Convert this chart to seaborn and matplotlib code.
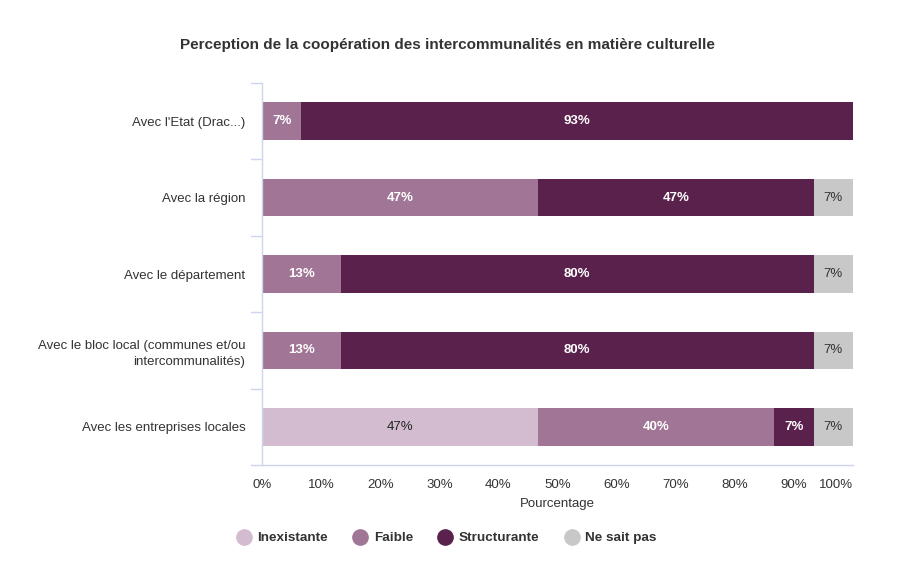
import matplotlib
matplotlib.use("Agg")
import matplotlib.pyplot as plt
import matplotlib.transforms as mtrans
from matplotlib.lines import Line2D
import seaborn as sns
import pandas as pd
import numpy as np

categories = ["Avec l'Etat (Drac...)", "Avec la région", "Avec le département",
              "Avec le bloc local (communes et/ou\nintercommunalités)",
              "Avec les entreprises locales"]
series = ["Inexistante", "Faible", "Structurante", "Ne sait pas"]
inexistante = [0, 0, 0, 0, 46.67]
faible = [6.67, 46.67, 13.33, 13.33, 40.0]
structurante = [93.33, 46.67, 80.0, 80.0, 6.67]
ne_sait_pas = [0, 6.67, 6.67, 6.67, 6.67]
colors = ["#d4bcd0", "#a07595", "#5a214d", "#c8c8c8"]
label_colors = ["#222222", "#ffffff", "#ffffff", "#333333"]
label_weights = ["normal", "bold", "bold", "normal"]
xticks = [0, 10, 20, 30, 40, 50, 60, 70, 80, 90, 100]

sns.set_theme(style="white")
plt.rcParams["font.family"] = ["Liberation Sans", "DejaVu Sans"]

df = pd.DataFrame({"cat": categories, "Inexistante": inexistante, "Faible": faible,
                   "Structurante": structurante, "Ne sait pas": ne_sait_pas})
vals = df[series].to_numpy()
cum = np.cumsum(vals, axis=1)

fig = plt.figure(figsize=(9.11, 5.86), dpi=100)
top_px, bot_px, left_px, right_px = 83, 465, 262, 853
ax = fig.add_axes([left_px/911, (586-bot_px)/586, (right_px-left_px)/911, (bot_px-top_px)/586])

for i in range(len(series) - 1, -1, -1):
    d = pd.DataFrame({"cat": categories, "v": cum[:, i]})
    sns.barplot(data=d, x="v", y="cat", orient="h", color=colors[i], width=0.49,
                saturation=1, ax=ax, linewidth=0, errorbar=None)

for r in range(len(categories)):
    for i in range(len(series)):
        v = vals[r, i]
        if v <= 0:
            continue
        start = cum[r, i] - v
        ax.text(start + v / 2, r, f"{round(v):.0f}%", ha="center", va="center",
                color=label_colors[i], fontweight=label_weights[i], fontsize=9.5)

ax.set_xlim(0, 100)
ax.set_ylim(4.5, -0.5)
ax.set_xticks(xticks)
ax.set_xticklabels([f"{t}%" for t in xticks], fontsize=9.5, color="#333333")
lbls = ax.get_xticklabels()
lbls[-1].set_horizontalalignment("right")
lbls[-1].set_transform(lbls[-1].get_transform() + mtrans.ScaledTranslation(2/100, 0, fig.dpi_scale_trans))
ax.set_xlabel("Pourcentage", fontsize=9.5, color="#333333", labelpad=5)
ax.set_ylabel("")
ax.tick_params(axis="y", length=0, labelsize=9.5, labelcolor="#333333", pad=12)
ax.tick_params(axis="x", length=9, color="#ccd6eb", width=1, direction="out", pad=1)
ax.set_yticks(range(len(categories)))
ax.set_yticklabels(categories, linespacing=1.4)

for s in ["top", "right"]:
    ax.spines[s].set_visible(False)
for s in ["left", "bottom"]:
    ax.spines[s].set_color("#ccd6eb")
    ax.spines[s].set_linewidth(1)

# category boundary ticks on y axis
for b in np.arange(-0.5, len(categories), 1.0):
    ax.plot([-1.85, 0], [b, b], color="#ccd6eb", lw=1, clip_on=False)

fig.text(447/911, 1 - 45/586, "Perception de la coopération des intercommunalités en matière culturelle",
         ha="center", va="center", fontsize=11, fontweight="bold", color="#333333")

handles = [Line2D([0], [0], marker="o", linestyle="", markersize=11,
                  markerfacecolor=c, markeredgecolor=c) for c in colors]
leg = fig.legend(handles, series, loc="center", bbox_to_anchor=(447/911, 1 - 538/586),
                 ncol=4, frameon=False, fontsize=9.7, handletextpad=0.5,
                 columnspacing=1.9, handlelength=1.0)
for t in leg.get_texts():
    t.set_fontweight("bold")
    t.set_color("#333333")

fig.savefig("out.png", dpi=100)
